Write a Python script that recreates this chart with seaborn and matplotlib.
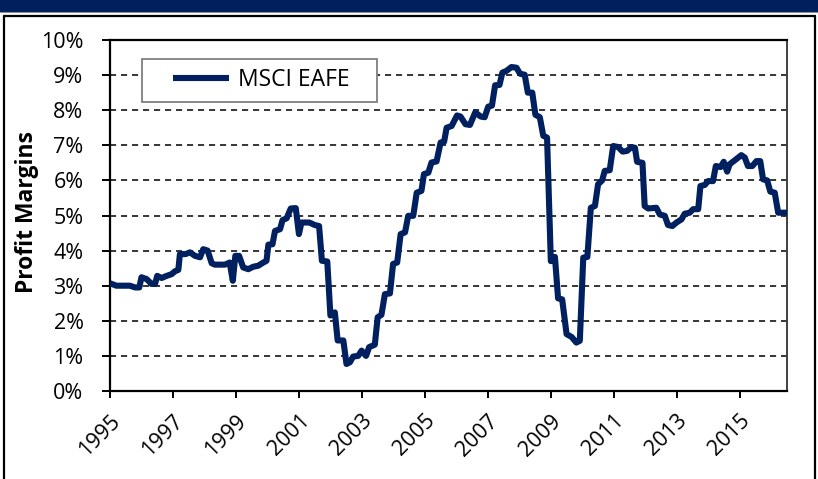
import matplotlib
matplotlib.use("Agg")
import matplotlib.pyplot as plt
import seaborn as sns
import pandas as pd
from matplotlib.patches import Rectangle
from matplotlib.lines import Line2D
from matplotlib.ticker import FuncFormatter

# MSCI EAFE profit margins (%), dated in decimal years
years = [
    1995.00, 1995.20, 1995.63, 1995.80, 1995.93, 1996.00, 1996.16, 1996.32, 1996.43, 1996.50,
    1996.64, 1996.80, 1996.96, 1997.06, 1997.17, 1997.22, 1997.40, 1997.54, 1997.70, 1997.86,
    1997.96, 1998.10, 1998.23, 1998.33, 1998.65, 1998.80, 1998.90, 1998.98, 1999.10, 1999.23,
    1999.39, 1999.55, 1999.71, 1999.87, 1999.97, 2000.03, 2000.16, 2000.24, 2000.40, 2000.48,
    2000.61, 2000.74, 2000.90, 2001.00, 2001.08, 2001.33, 2001.50, 2001.64, 2001.73, 2001.90,
    2002.00, 2002.14, 2002.23, 2002.41, 2002.51, 2002.62, 2002.72, 2002.88, 2002.99, 2003.13,
    2003.23, 2003.41, 2003.50, 2003.62, 2003.73, 2003.89, 2003.99, 2004.12, 2004.23, 2004.37,
    2004.47, 2004.63, 2004.74, 2004.89, 2004.97, 2005.11, 2005.21, 2005.37, 2005.50, 2005.61,
    2005.69, 2005.85, 2006.02, 2006.13, 2006.29, 2006.43, 2006.60, 2006.77, 2006.90, 2007.01,
    2007.13, 2007.23, 2007.37, 2007.46, 2007.59, 2007.75, 2007.91, 2008.02, 2008.17, 2008.27,
    2008.41, 2008.51, 2008.65, 2008.76, 2008.88, 2009.00, 2009.13, 2009.23, 2009.36, 2009.50,
    2009.66, 2009.81, 2009.92, 2010.03, 2010.16, 2010.27, 2010.40, 2010.50, 2010.63, 2010.71,
    2010.87, 2010.98, 2011.14, 2011.28, 2011.42, 2011.56, 2011.67, 2011.74, 2011.91, 2011.98,
    2012.09, 2012.35, 2012.46, 2012.62, 2012.72, 2012.86, 2012.99, 2013.15, 2013.25, 2013.41,
    2013.52, 2013.68, 2013.75, 2013.89, 2013.99, 2014.15, 2014.24, 2014.39, 2014.49, 2014.60,
    2014.68, 2014.81, 2014.95, 2015.05, 2015.16, 2015.26, 2015.40, 2015.53, 2015.65, 2015.74,
    2015.87, 2015.97, 2016.11, 2016.22, 2016.50,
]
margins = [
    3.07, 3.00, 3.00, 2.95, 2.95, 3.24, 3.19, 3.05, 3.05, 3.28,
    3.22, 3.28, 3.33, 3.41, 3.45, 3.90, 3.90, 3.95, 3.85, 3.81,
    4.04, 4.00, 3.64, 3.60, 3.60, 3.66, 3.14, 3.85, 3.85, 3.52,
    3.47, 3.54, 3.57, 3.66, 3.71, 4.17, 4.18, 4.56, 4.61, 4.87,
    4.92, 5.20, 5.21, 4.47, 4.80, 4.80, 4.73, 4.70, 3.71, 3.69,
    2.15, 2.24, 1.44, 1.44, 0.77, 0.82, 0.98, 1.00, 1.15, 1.00,
    1.25, 1.32, 2.10, 2.17, 2.76, 2.78, 3.62, 3.66, 4.47, 4.52,
    4.99, 4.99, 5.65, 5.70, 6.18, 6.22, 6.51, 6.54, 7.08, 7.10,
    7.50, 7.55, 7.85, 7.82, 7.60, 7.58, 7.94, 7.82, 7.80, 8.10,
    8.13, 8.71, 8.72, 9.07, 9.12, 9.23, 9.21, 9.04, 9.01, 8.50,
    8.50, 7.87, 7.80, 7.27, 7.22, 3.70, 3.82, 2.64, 2.61, 1.62,
    1.54, 1.38, 1.43, 3.80, 3.82, 5.22, 5.27, 5.89, 6.00, 6.27,
    6.29, 6.98, 6.95, 6.82, 6.84, 6.95, 6.93, 6.53, 6.50, 5.27,
    5.20, 5.22, 5.03, 4.99, 4.73, 4.70, 4.80, 4.89, 5.05, 5.08,
    5.18, 5.18, 5.84, 5.87, 5.98, 5.98, 6.41, 6.38, 6.53, 6.25,
    6.46, 6.55, 6.65, 6.72, 6.65, 6.41, 6.41, 6.55, 6.55, 6.03,
    6.00, 5.68, 5.65, 5.08, 5.08,
]
series_name = "MSCI EAFE"
x_ticks = list(range(1995, 2016, 2))
y_ticks = list(range(0, 11))
y_label = "Profit Margins"

NAVY = "#002060"

sns.set_theme(style="white")
plt.rcParams["font.family"] = ["Open Sans", "DejaVu Sans"]

fig = plt.figure(figsize=(8.18, 4.79), dpi=100)
fig.patch.set_facecolor("white")
ax = fig.add_axes([110 / 818, 1 - 391 / 479, 677 / 818, 351 / 479])

df = pd.DataFrame({"year": years, "margin": margins})
sns.lineplot(data=df, x="year", y="margin", ax=ax, color=NAVY, linewidth=4.4,
             estimator=None, sort=False, label=series_name, zorder=3)
for line in ax.get_lines():
    line.set_solid_joinstyle("round")
    line.set_solid_capstyle("butt")

ax.set_xlim(1995, 2016.5)
ax.set_ylim(0, 10)
ax.set_xticks(x_ticks)
ax.set_yticks(y_ticks)
ax.yaxis.set_major_formatter(FuncFormatter(lambda v, _: f"{int(v)}%"))
ax.set_xlabel("")
ax.set_ylabel(y_label, fontsize=16.5, fontweight="bold", color="black")
ax.yaxis.set_label_coords(-0.105, 0.51)

# dashed horizontal gridlines between the axis limits
for v in y_ticks[1:-1]:
    ax.axhline(v, color="black", linewidth=1.1, linestyle=(0, (4, 3.2)), zorder=1)

for side in ["left", "bottom", "top"]:
    ax.spines[side].set_color("black")
    ax.spines[side].set_linewidth(1.6)
ax.spines["right"].set_color("#404040")
ax.spines["right"].set_linewidth(1.4)

ax.tick_params(axis="y", which="major", direction="out", length=6, width=1.4,
               color="black", pad=13, labelsize=15.5, labelcolor="black", left=True)
ax.tick_params(axis="x", which="major", direction="out", length=5, width=1.4,
               color="black", pad=9, labelsize=15.5, labelcolor="black", bottom=True)
for lab in ax.get_xticklabels():
    lab.set_rotation(45)
    lab.set_ha("right")
    lab.set_va("top")
    lab.set_rotation_mode("anchor")

# legend with a framed box
ax.add_patch(Rectangle((32 / 677, (391 - 102) / 351), 235 / 677, 43 / 351,
                       transform=ax.transAxes, facecolor="white",
                       edgecolor="#7f7f7f", linewidth=1.3, zorder=4))
ax.legend(loc="center", bbox_to_anchor=((32 + 119) / 677, (391 - 80.5) / 351),
          frameon=False, fontsize=16.5, handlelength=2.45, handletextpad=0.4,
          borderpad=0.2, labelcolor="black")
ax.get_legend().set_zorder(5)

# header band and outer frame
fig.patches.append(Rectangle((0, 1 - 11.5 / 479), 1, 11.5 / 479,
                             transform=fig.transFigure, facecolor="#001F5C",
                             edgecolor="none", zorder=0))
fig.lines.append(Line2D([0, 1], [1 - 12.2 / 479] * 2, transform=fig.transFigure,
                        color="#8c8c8c", linewidth=0.8))
fig.lines.append(Line2D([4 / 818, 815 / 818], [1 - 15.5 / 479] * 2,
                        transform=fig.transFigure, color="black", linewidth=1.6))
fig.lines.append(Line2D([4 / 818] * 2, [0, 1 - 15.5 / 479],
                        transform=fig.transFigure, color="black", linewidth=1.6))
fig.lines.append(Line2D([815 / 818] * 2, [0, 1 - 15.5 / 479],
                        transform=fig.transFigure, color="black", linewidth=1.6))

fig.savefig("out.png", dpi=100)
